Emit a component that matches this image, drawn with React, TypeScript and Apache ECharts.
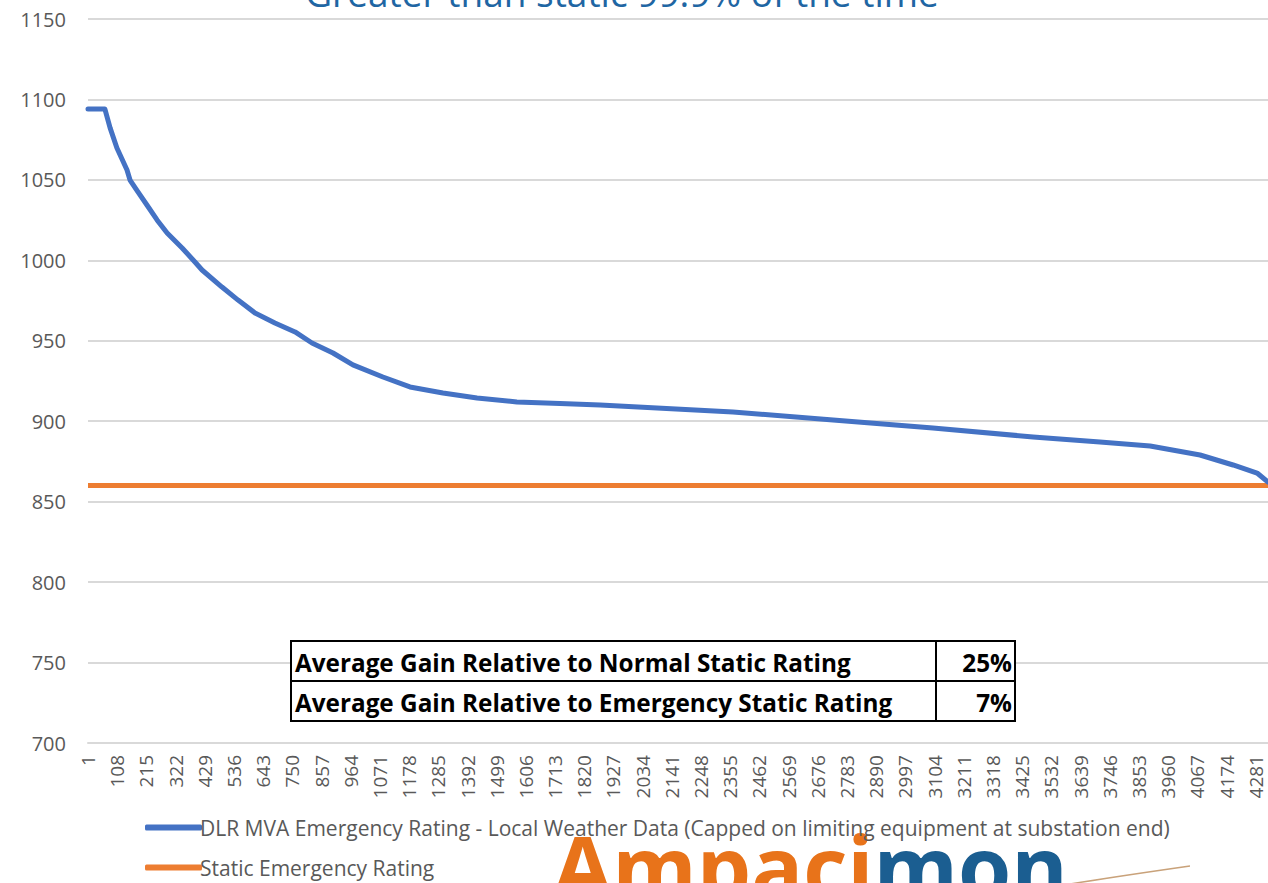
import React, { useEffect, useRef } from "react";
import * as echarts from "echarts";

// ---- data ----
const TITLE = "Greater than static 99.9% of the time";
const SERIES_DLR = "DLR MVA Emergency Rating - Local Weather Data (Capped on limiting equipment at substation end)";
const SERIES_STATIC = "Static Emergency Rating";

// hour index (0-based, label = index + 1) of each read point
const dlrIndex = [
  0, 62, 81, 106, 143, 154, 183, 216, 253, 290, 345, 392, 418, 491, 550, 612,
  685, 759, 821, 898, 971, 1081, 1180, 1301, 1426, 1572, 1730, 1877, 2364,
  2731, 3097, 3464, 3709, 3893, 4076, 4197, 4285, 4325,
];
const dlrValues = [
  1094, 1094, 1082.3, 1069.8, 1056.1, 1049.9, 1042.5, 1034.4, 1025.1, 1017,
  1007.7, 999, 994, 983.4, 975.3, 967.3, 961.1, 955.5, 948.6, 942.4, 935,
  927.5, 921.3, 917.5, 914.4, 912, 911, 910.1, 905.7, 900.8, 895.8, 890.2,
  887.1, 884.6, 879, 872.8, 867.8, 862.2,
];
const staticIndex = [0, 4325];
const staticValues = [860, 860];

const X_MAX = 4325;
const X_TICK_STEP = 107;
const Y_MIN = 700;
const Y_MAX = 1150;
const Y_STEP = 50;

const tableRows = [
  ["Average Gain Relative to Normal Static Rating", "25%"],
  ["Average Gain Relative to Emergency Static Rating", "7%"],
];

const LOGO_ORANGE = "Ampaci";
const LOGO_BLUE = "mon";

const FONT = "'Open Sans', 'Noto Sans', sans-serif";

export default function App() {
  const ref = useRef<HTMLDivElement>(null);

  useEffect(() => {
    if (!ref.current) return;
    const chart = echarts.init(ref.current, null, { renderer: "svg" });

    const tableX = 291;
    const tableY = 641;
    const tableW = 724;
    const rowH = 40;
    const divX = 936;

    const tableGraphics: any[] = [
      {
        type: "rect",
        shape: { x: tableX, y: tableY, width: tableW, height: rowH * 2 },
        style: { fill: "#ffffff", stroke: "#000000", lineWidth: 2 },
        z: 100,
      },
      {
        type: "line",
        shape: { x1: tableX, y1: tableY + rowH, x2: tableX + tableW, y2: tableY + rowH },
        style: { stroke: "#000000", lineWidth: 2 },
        z: 101,
      },
      {
        type: "line",
        shape: { x1: divX, y1: tableY, x2: divX, y2: tableY + rowH * 2 },
        style: { stroke: "#000000", lineWidth: 2 },
        z: 101,
      },
    ];
    tableRows.forEach((row, i) => {
      tableGraphics.push({
        type: "text",
        x: tableX + 4,
        y: tableY + rowH * i + rowH / 2 + 1,
        style: {
          text: row[0],
          fontSize: 24.3,
          fontWeight: "bold",
          fontFamily: FONT,
          fill: "#000000",
          align: "left",
          verticalAlign: "middle",
        },
        z: 102,
      });
      tableGraphics.push({
        type: "text",
        x: tableX + tableW - 3,
        y: tableY + rowH * i + rowH / 2 + 1,
        style: {
          text: row[1],
          fontSize: 24.3,
          fontWeight: "bold",
          fontFamily: FONT,
          fill: "#000000",
          align: "right",
          verticalAlign: "middle",
        },
        z: 102,
      });
    });

    const option: any = {
      animation: false,
      backgroundColor: "#ffffff",
      grid: { left: 88, right: 0, top: 19, bottom: 140, containLabel: false },
      xAxis: {
        type: "value",
        min: 0,
        max: X_MAX,
        interval: X_TICK_STEP,
        axisLine: { show: true, lineStyle: { color: "#d9d9d9", width: 2 } },
        axisTick: { show: false },
        splitLine: { show: false },
        axisLabel: {
          rotate: 90,
          margin: 12,
          color: "#595959",
          fontSize: 19,
          fontFamily: FONT,
          showMaxLabel: false,
          formatter: (v: number) => String(v + 1),
        },
      },
      yAxis: {
        type: "value",
        min: Y_MIN,
        max: Y_MAX,
        interval: Y_STEP,
        axisLine: { show: false },
        axisTick: { show: false },
        splitLine: { lineStyle: { color: "#d9d9d9", width: 2 } },
        axisLabel: {
          color: "#595959",
          fontSize: 20,
          fontFamily: FONT,
          margin: 22,
          formatter: (v: number) => String(v),
        },
      },
      legend: {
        orient: "vertical",
        left: 140,
        top: 812,
        itemWidth: 57,
        itemHeight: 6,
        itemGap: 19,
        icon: "roundRect",
        textStyle: { color: "#595959", fontSize: 21, fontFamily: FONT, padding: [0, 0, 0, -7] },
        data: [SERIES_DLR, SERIES_STATIC],
      },
      series: [
        {
          name: SERIES_DLR,
          type: "line",
          showSymbol: false,
          symbol: "none",
          color: "#4472C4",
          lineStyle: { color: "#4472C4", width: 5, cap: "round", join: "round" },
          data: dlrIndex.map((x, i) => [x, dlrValues[i]]),
          z: 3,
        },
        {
          name: SERIES_STATIC,
          type: "line",
          showSymbol: false,
          symbol: "none",
          color: "#ED7D31",
          lineStyle: { color: "#ED7D31", width: 5 },
          data: staticIndex.map((x, i) => [x, staticValues[i]]),
          z: 2,
        },
      ],
      graphic: [
        {
          type: "text",
          x: 622,
          y: 11,
          style: {
            text: TITLE,
            fontSize: 37,
            fontFamily: FONT,
            fill: "#1F66A3",
            align: "center",
            verticalAlign: "bottom",
          },
        },
        ...tableGraphics,
        {
          type: "text",
          x: 553,
          y: 842,
          style: {
            text: "{o|" + LOGO_ORANGE + "}{b|" + LOGO_BLUE + "}",
            fontFamily: FONT,
            fontWeight: "bold",
            fontSize: 86,
            lineHeight: 46,
            verticalAlign: "top",
            rich: {
              o: { fill: "#E8731A", fontSize: 86, lineHeight: 46, fontWeight: "bold", fontFamily: FONT },
              b: { fill: "#1B5E91", fontSize: 86, lineHeight: 46, fontWeight: "bold", fontFamily: FONT },
            },
          },
        },
        {
          type: "bezierCurve",
          shape: { x1: 1070, y1: 884, cpx1: 1120, cpy1: 876, x2: 1190, y2: 866 },
          style: { stroke: "#C9A27A", lineWidth: 1.5, fill: "none" },
        },
      ],
    };

    chart.setOption(option);
    return () => chart.dispose();
  }, []);

  return (
    <div
      ref={ref}
      style={{ position: "absolute", left: 0, top: 0, width: 1268, height: 883, overflow: "hidden" }}
    />
  );
}
